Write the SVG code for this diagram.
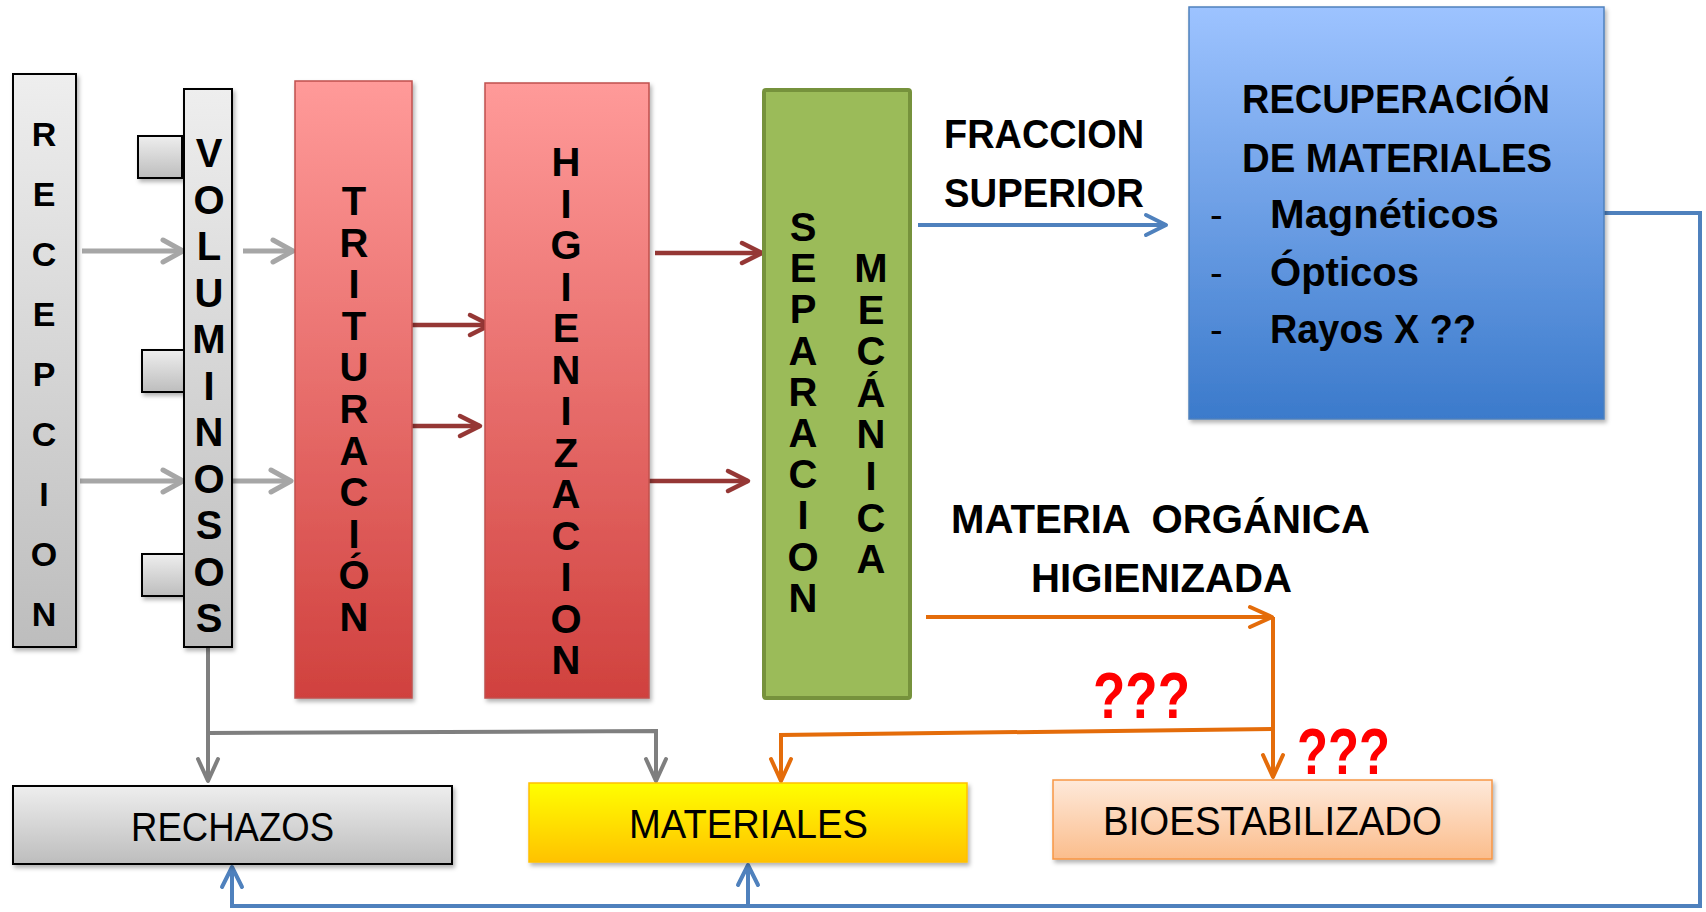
<svg xmlns="http://www.w3.org/2000/svg" width="1706" height="912" viewBox="0 0 1706 912">
<defs>
<linearGradient id="gGray" x1="0" y1="0" x2="0" y2="1"><stop offset="0" stop-color="#eeeeee"/><stop offset="1" stop-color="#bdbdbd"/></linearGradient>
<linearGradient id="gRed" x1="0" y1="0" x2="0" y2="1"><stop offset="0" stop-color="#ff9a99"/><stop offset="1" stop-color="#d0413e"/></linearGradient>
<linearGradient id="gBlue" x1="0" y1="0" x2="0" y2="1"><stop offset="0" stop-color="#9dc3ff"/><stop offset="1" stop-color="#3b7acb"/></linearGradient>
<linearGradient id="gYellow" x1="0" y1="0" x2="0" y2="1"><stop offset="0" stop-color="#ffff00"/><stop offset="1" stop-color="#ffc200"/></linearGradient>
<linearGradient id="gPeach" x1="0" y1="0" x2="0" y2="1"><stop offset="0" stop-color="#fee9da"/><stop offset="1" stop-color="#fbbd8c"/></linearGradient>
<filter id="shadow" x="-10%" y="-10%" width="130%" height="130%"><feDropShadow dx="2" dy="3" stdDeviation="2" flood-color="#000" flood-opacity="0.3"/></filter>
<marker id="aGrayL" markerUnits="userSpaceOnUse" markerWidth="30" markerHeight="30" viewBox="-26 -15 30 30" refX="0" refY="0" orient="auto" overflow="visible"><path d="M-20 -11 L0 0 L-20 11" fill="none" stroke="#a6a6a6" stroke-width="5" stroke-linecap="round" stroke-linejoin="round"/></marker>
<marker id="aGray" markerUnits="userSpaceOnUse" markerWidth="30" markerHeight="30" viewBox="-26 -15 30 30" refX="0" refY="0" orient="auto" overflow="visible"><path d="M-22 -10 L0 0 L-22 10" fill="none" stroke="#7f7f7f" stroke-width="4" stroke-linecap="round" stroke-linejoin="round"/></marker>
<marker id="aRed" markerUnits="userSpaceOnUse" markerWidth="30" markerHeight="30" viewBox="-26 -15 30 30" refX="0" refY="0" orient="auto" overflow="visible"><path d="M-20 -10 L0 0 L-20 10" fill="none" stroke="#953735" stroke-width="4.5" stroke-linecap="round" stroke-linejoin="round"/></marker>
<marker id="aBlue" markerUnits="userSpaceOnUse" markerWidth="30" markerHeight="30" viewBox="-26 -15 30 30" refX="0" refY="0" orient="auto" overflow="visible"><path d="M-20 -10 L0 0 L-20 10" fill="none" stroke="#4f81bd" stroke-width="4" stroke-linecap="round" stroke-linejoin="round"/></marker>
<marker id="aOrange" markerUnits="userSpaceOnUse" markerWidth="30" markerHeight="30" viewBox="-26 -15 30 30" refX="0" refY="0" orient="auto" overflow="visible"><path d="M-22 -10 L0 0 L-22 10" fill="none" stroke="#e46c0a" stroke-width="4" stroke-linecap="round" stroke-linejoin="round"/></marker>
</defs>
<style>
text{font-family:"Liberation Sans",Arial,sans-serif;fill:#000}
.v{font-weight:bold;font-size:40px;text-anchor:middle}
.vs{font-weight:bold;font-size:34px;text-anchor:middle}
.b{font-weight:bold;font-size:40px}
.r{font-size:40px}
.d{font-size:38px}
.q{font-weight:bold;font-size:64px;fill:#ff0000}
.grayBox{fill:url(#gGray);stroke:#000;stroke-width:2;filter:url(#shadow)}
.redBox{fill:url(#gRed);stroke:#c0504d;stroke-width:1.5;filter:url(#shadow)}
.conn{fill:none;stroke-linejoin:miter}
.cGrayL{stroke:#a6a6a6;stroke-width:5}
.cGray{stroke:#7f7f7f;stroke-width:4}
.cRed{stroke:#953735;stroke-width:4.5}
.cBlue{stroke:#4f81bd;stroke-width:4}
.cOrange{stroke:#e46c0a;stroke-width:4}
</style>
<rect width="1706" height="912" fill="#ffffff"/>

<g id="connectors">
<path class="conn cGrayL" d="M82 251 H183" marker-end="url(#aGrayL)"/>
<path class="conn cGrayL" d="M80 481 H183" marker-end="url(#aGrayL)"/>
<path class="conn cGrayL" d="M243 251 H293" marker-end="url(#aGrayL)"/>
<path class="conn cGrayL" d="M233 481 H291" marker-end="url(#aGrayL)"/>
<path class="conn cRed" d="M412 325 H490" marker-end="url(#aRed)"/>
<path class="conn cRed" d="M412 426 H480" marker-end="url(#aRed)"/>
<path class="conn cRed" d="M655 253 H762" marker-end="url(#aRed)"/>
<path class="conn cRed" d="M649 481 H748" marker-end="url(#aRed)"/>
<path class="conn cBlue" d="M918 225 H1166" marker-end="url(#aBlue)"/>
<path class="conn cGray" d="M208 647 V781" marker-end="url(#aGray)"/>
<path class="conn cGray" d="M208 733 L656 731 V781" marker-end="url(#aGray)"/>
<path class="conn cOrange" d="M926 617 H1272" marker-end="url(#aOrange)"/>
<path class="conn cOrange" d="M1273 617 V777" marker-end="url(#aOrange)"/>
<path class="conn cOrange" d="M1273 729 L781 735 V781" marker-end="url(#aOrange)"/>
<path class="conn cBlue" d="M1604 213 H1700 V906 H232 V867" marker-end="url(#aBlue)"/>
<path class="conn cBlue" d="M748 906 V865" marker-end="url(#aBlue)"/>
</g>

<g id="recepcion">
<rect class="grayBox" x="13" y="74" width="63" height="573"/>
<text class="vs"><tspan x="44" y="146">R</tspan><tspan x="44" y="206">E</tspan><tspan x="44" y="266">C</tspan><tspan x="44" y="326">E</tspan><tspan x="44" y="386">P</tspan><tspan x="44" y="446">C</tspan><tspan x="44" y="506">I</tspan><tspan x="44" y="566">O</tspan><tspan x="44" y="626">N</tspan></text>
</g>

<g id="sq1"><rect class="grayBox" x="138" y="136" width="44" height="42"/></g>
<g id="sq2"><rect class="grayBox" x="142" y="350" width="42" height="42"/></g>
<g id="sq3"><rect class="grayBox" x="142" y="554" width="42" height="42"/></g>

<g id="voluminosos">
<rect class="grayBox" x="184" y="89" width="48" height="558"/>
<text class="v"><tspan x="209" y="167">V</tspan><tspan x="209" y="213.5">O</tspan><tspan x="209" y="260">L</tspan><tspan x="209" y="306.5">U</tspan><tspan x="209" y="353">M</tspan><tspan x="209" y="399.5">I</tspan><tspan x="209" y="446">N</tspan><tspan x="209" y="492.5">O</tspan><tspan x="209" y="539">S</tspan><tspan x="209" y="585.5">O</tspan><tspan x="209" y="632">S</tspan></text>
</g>

<g id="trituracion">
<rect class="redBox" x="295" y="81" width="117" height="617"/>
<text class="v"><tspan x="354" y="215">T</tspan><tspan x="354" y="256.6">R</tspan><tspan x="354" y="298.2">I</tspan><tspan x="354" y="339.8">T</tspan><tspan x="354" y="381.4">U</tspan><tspan x="354" y="423">R</tspan><tspan x="354" y="464.6">A</tspan><tspan x="354" y="506.2">C</tspan><tspan x="354" y="547.8">I</tspan><tspan x="354" y="589.4">Ó</tspan><tspan x="354" y="631">N</tspan></text>
</g>

<g id="higienizacion">
<rect class="redBox" x="485" y="83" width="164" height="615"/>
<text class="v"><tspan x="566" y="176">H</tspan><tspan x="566" y="217.5">I</tspan><tspan x="566" y="259">G</tspan><tspan x="566" y="300.5">I</tspan><tspan x="566" y="342">E</tspan><tspan x="566" y="383.5">N</tspan><tspan x="566" y="425">I</tspan><tspan x="566" y="466.5">Z</tspan><tspan x="566" y="508">A</tspan><tspan x="566" y="549.5">C</tspan><tspan x="566" y="591">I</tspan><tspan x="566" y="632.5">O</tspan><tspan x="566" y="674">N</tspan></text>
</g>

<g id="separacion">
<rect x="764" y="90" width="146" height="608" rx="2" fill="#9bbb59" stroke="#76923c" stroke-width="4"/>
<text class="v"><tspan x="803" y="241">S</tspan><tspan x="803" y="282.2">E</tspan><tspan x="803" y="323.4">P</tspan><tspan x="803" y="364.6">A</tspan><tspan x="803" y="405.8">R</tspan><tspan x="803" y="447">A</tspan><tspan x="803" y="488.2">C</tspan><tspan x="803" y="529.4">I</tspan><tspan x="803" y="570.6">O</tspan><tspan x="803" y="611.8">N</tspan></text>
<text class="v"><tspan x="871" y="282">M</tspan><tspan x="871" y="323.6">E</tspan><tspan x="871" y="365.2">C</tspan><tspan x="871" y="406.8">Á</tspan><tspan x="871" y="448.4">N</tspan><tspan x="871" y="490">I</tspan><tspan x="871" y="531.6">C</tspan><tspan x="871" y="573.2">A</tspan></text>
</g>

<g id="fraccion-label">
<text class="b" x="944" y="148" textLength="200" lengthAdjust="spacingAndGlyphs">FRACCION</text>
<text class="b" x="944" y="207" textLength="200" lengthAdjust="spacingAndGlyphs">SUPERIOR</text>
</g>

<g id="recuperacion">
<rect x="1189" y="7" width="415" height="412" fill="url(#gBlue)" stroke="#4f81bd" stroke-width="1.5" filter="url(#shadow)"/>
<text class="b" x="1242" y="113" textLength="308" lengthAdjust="spacingAndGlyphs">RECUPERACIÓN</text>
<text class="b" x="1242" y="172" textLength="310" lengthAdjust="spacingAndGlyphs">DE MATERIALES</text>
<text class="d" x="1210" y="228">-</text>
<text class="d" x="1210" y="286">-</text>
<text class="d" x="1210" y="343">-</text>
<text class="b" x="1270" y="228" textLength="229" lengthAdjust="spacingAndGlyphs">Magnéticos</text>
<text class="b" x="1270" y="286" textLength="149" lengthAdjust="spacingAndGlyphs">Ópticos</text>
<text class="b" x="1270" y="343" textLength="206" lengthAdjust="spacingAndGlyphs">Rayos X ??</text>
</g>

<g id="materia-label">
<text class="b" x="951" y="533" textLength="419" lengthAdjust="spacingAndGlyphs" style="white-space:pre">MATERIA  ORGÁNICA</text>
<text class="b" x="1031" y="592" textLength="261" lengthAdjust="spacingAndGlyphs">HIGIENIZADA</text>
</g>

<g id="question1"><text class="q" x="1093" y="718" textLength="97" lengthAdjust="spacingAndGlyphs">???</text></g>
<g id="question2"><text class="q" x="1297" y="774" textLength="93" lengthAdjust="spacingAndGlyphs">???</text></g>

<g id="rechazos">
<rect class="grayBox" x="13" y="786" width="439" height="78"/>
<text class="r" x="131" y="841" textLength="203" lengthAdjust="spacingAndGlyphs">RECHAZOS</text>
</g>

<g id="materiales">
<rect x="529" y="783" width="438" height="79" fill="url(#gYellow)" stroke="#ffc000" stroke-width="1.5" filter="url(#shadow)"/>
<text class="r" x="629" y="838" textLength="239" lengthAdjust="spacingAndGlyphs">MATERIALES</text>
</g>

<g id="bioestabilizado">
<rect x="1053" y="780" width="439" height="79" fill="url(#gPeach)" stroke="#f79646" stroke-width="1.5" filter="url(#shadow)"/>
<text class="r" x="1103" y="835" textLength="339" lengthAdjust="spacingAndGlyphs">BIOESTABILIZADO</text>
</g>
</svg>
